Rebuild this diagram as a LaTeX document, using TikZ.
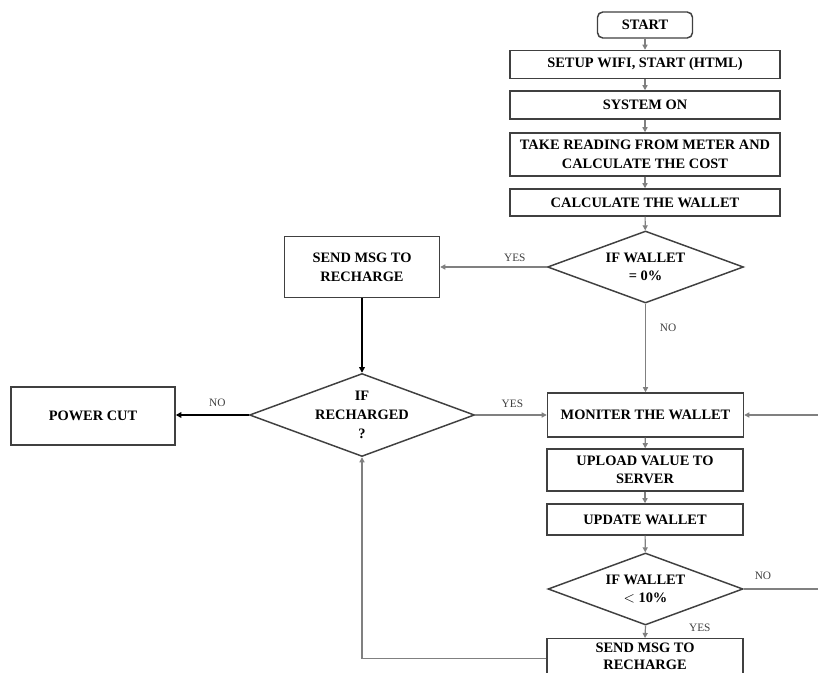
\documentclass[tikz,border=0pt]{standalone}
\usepackage{fontspec}
\setmainfont{Liberation Serif}
\usetikzlibrary{shapes.geometric,arrows.meta}
\tikzset{
	blk/.style={draw=black!75, line width=1.1pt, fill=white, align=center, inner sep=0pt,
		font=\bfseries\fontsize{10.8}{14}\selectfont},
	dia/.style={blk, diamond, aspect=2.6},
	flow/.style={draw=black!50, line width=0.9pt, -{Triangle[length=3.8pt,width=3.8pt]}},
	bflow/.style={draw=black, line width=1.4pt, -{Triangle[length=4.2pt,width=4.2pt]}},
	lab/.style={font=\fontsize{8.5}{10}\selectfont, text=black!75}
}

\begin{document}
\begin{tikzpicture}[x=0.75pt, y=-0.75pt]
	\clip (0,0) rectangle (818,673);
	\fill[white] (0,0) rectangle (818,673);
	\node[blk, rounded corners=4pt, minimum width=71.25pt, minimum height=19.5pt] (start) at (645,25) {START};
	\node[blk, minimum width=202.5pt, minimum height=21pt] (setup) at (645,64.5) {SETUP WIFI, START (HTML)};
	\node[blk, minimum width=202.5pt, minimum height=21pt] (syson) at (645,105) {SYSTEM ON};
	\node[blk, minimum width=202.5pt, minimum height=32.25pt] (read) at (645,154.5) {TAKE READING FROM METER AND\\CALCULATE THE COST};
	\node[blk, minimum width=202.5pt, minimum height=20.25pt] (calc) at (645,202.5) {CALCULATE THE WALLET};
	\node[dia, minimum width=147pt, minimum height=54pt] (zero) at (645.5,267) {IF WALLET\\= 0\%};
	\node[blk, minimum width=116.25pt, minimum height=45.75pt] (sendA) at (362,267) {SEND MSG TO\\RECHARGE};
	\node[blk, minimum width=147pt, minimum height=33pt] (mon) at (645.5,415) {MONITER THE WALLET};
	\node[blk, minimum width=147pt, minimum height=31.5pt] (upl) at (645,470) {UPLOAD VALUE TO\\SERVER};
	\node[blk, minimum width=147pt, minimum height=23.25pt] (upd) at (645,519.5) {UPDATE WALLET};
	\node[dia, minimum width=146.25pt, minimum height=54pt] (low) at (645.5,589) {IF WALLET\\$<$ 10\%};
	\node[blk, minimum width=147pt, minimum height=30pt, text depth=4pt, anchor=north,
		font=\bfseries\fontsize{10.8}{12.5}\selectfont] (sendB) at (645,638) {SEND MSG TO\\RECHARGE};
	\node[dia, minimum width=168.75pt, minimum height=51pt] (rech) at (362,415) {IF\\RECHARGED\\?};
	\node[blk, minimum width=123pt, minimum height=43.5pt] (pcut) at (93,416) {POWER CUT};
	\coordinate (edge) at (840,589);
	\draw[flow] (start) -- (setup);
	\draw[flow] (setup) -- (syson);
	\draw[flow] (syson) -- (read);
	\draw[flow] (read) -- (calc);
	\draw[flow] (calc) -- (zero);
	\draw[flow] (zero.west) -- node[lab, above, pos=0.3] {YES} (sendA.east);
	\draw[flow] (zero.south) -- node[lab, right, pos=0.27, xshift=7pt] {NO} (mon.north);
	\draw[bflow] (sendA.south) -- (rech.north);
	\draw[bflow] (rech.west) -- node[lab, above, pos=0.43, yshift=2pt] {NO} (rech.west -| pcut.east);
	\draw[flow] (rech.east) -- node[lab, above, pos=0.52, yshift=2pt] {YES} (mon.west);
	\draw[flow] (mon) -- (upl);
	\draw[flow] (upl) -- (upd);
	\draw[flow] (upd) -- (low);
	\draw[flow] (low.south) -- node[lab, right, pos=0.2, xshift=29pt] {YES} (sendB.north);
	\draw[flow] (low.east) -- node[lab, above, pos=0.2, yshift=3pt] {NO} (edge) |- (mon.east);
	\draw[flow] (sendB.west) -| (rech.south);
\end{tikzpicture}
\end{document}
